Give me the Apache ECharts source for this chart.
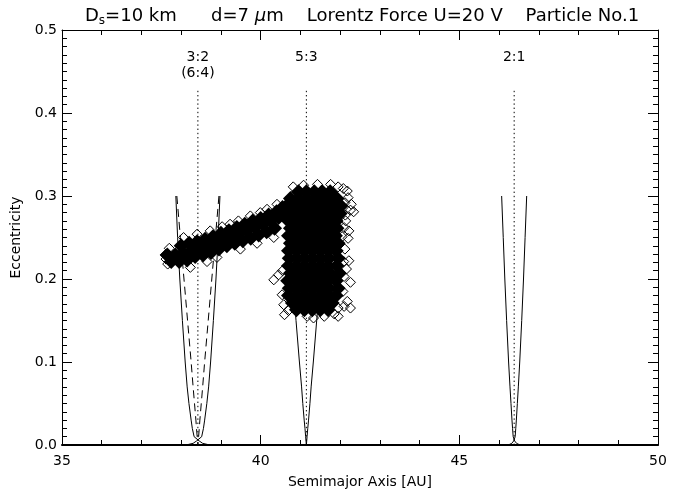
<!DOCTYPE html>
<html>
<head>
<meta charset="utf-8">
<script src="https://cdn.jsdelivr.net/npm/echarts@6/dist/echarts.min.js"></script>
<style>
html, body { margin: 0; padding: 0; background: #fff; }
#chart { width: 680px; height: 494px; }
</style>
</head>
<body>
<div id="chart"></div>
<script>
// axis ticks
const xTicks = [35, 40, 45, 50]
const yTicks = [0.0, 0.1, 0.2, 0.3, 0.4, 0.5]

// resonance locations [AU] and their names
const resNames = ['3:2', '5:3', '2:1']
const resA = [38.42, 41.15, 46.38]
const resTop = 0.428

// resonance widths: half width [AU] at each eccentricity level
const eLevels = [0.30, 0.25, 0.20, 0.15, 0.10, 0.07, 0.05, 0.03, 0.02, 0.01]
const w32 = [0.555, 0.51, 0.455, 0.39, 0.32, 0.27, 0.225, 0.17, 0.14, 0.095]
const w64 = [0.53, 0.44, 0.35, 0.26, 0.17, 0.12, 0.085, 0.05, 0.035, 0.018]
const w53 = [0.51, 0.43, 0.345, 0.26, 0.175, 0.12, 0.09, 0.055, 0.035, 0.018]
const w21 = [0.315, 0.275, 0.235, 0.19, 0.14, 0.105, 0.08, 0.055, 0.04, 0.025]
// little crossing "foot" near e=0
const footE = [0.005, 0.002, 0]
const foot32 = [0.03, 0.12, 0.3]
const foot21 = [0.01, 0.06, 0.15]

// particle orbit (a, e) - dense part
const cloudCore = [
  // band from 3:2 towards 5:3
  [37.75, .221], [37.95, .221], [38.15, .223], [38.35, .227], [38.55, .229], [38.75, .232],
  [38.95, .236], [39.15, .24], [39.35, .243], [39.55, .246], [39.75, .249], [39.95, .253],
  [40.15, .257], [40.35, .261],
  [37.65, .229], [37.85, .229], [38.05, .231], [38.25, .234], [38.45, .237], [38.65, .24],
  [38.85, .244], [39.05, .248], [39.25, .251], [39.45, .255], [39.65, .258], [39.85, .262],
  [40.05, .266], [40.25, .27], [40.45, .274],
  [38.0, .24], [38.2, .243], [38.4, .245], [38.6, .248], [38.8, .251], [39.0, .255],
  [39.2, .258], [39.4, .262], [39.6, .266], [39.8, .27], [40.0, .273], [40.2, .277],
  [40.4, .281], [40.55, .286],
  // blob at 5:3
  [40.95, .305], [41.15, .305], [41.35, .305], [41.55, .305], [41.75, .305],
  [40.75, .297], [40.95, .297], [41.15, .297], [41.35, .297], [41.55, .297], [41.75, .297], [41.92, .297],
  [40.65, .288], [40.85, .288], [41.05, .288], [41.25, .288], [41.45, .288], [41.65, .288], [41.85, .288], [42.02, .288],
  [40.6, .279], [40.8, .279], [41.0, .279], [41.2, .279], [41.4, .279], [41.6, .279], [41.8, .279], [42.0, .279],
  [40.7, .27], [40.9, .27], [41.1, .27], [41.3, .27], [41.5, .27], [41.7, .27], [41.9, .27],
  [40.75, .261], [40.95, .261], [41.15, .261], [41.35, .261], [41.55, .261], [41.75, .261], [41.92, .261],
  [40.7, .252], [40.9, .252], [41.1, .252], [41.3, .252], [41.5, .252], [41.7, .252], [41.88, .252],
  [40.75, .243], [40.95, .243], [41.15, .243], [41.35, .243], [41.55, .243], [41.75, .243], [41.95, .243],
  [40.7, .234], [40.9, .234], [41.1, .234], [41.3, .234], [41.5, .234], [41.7, .234], [41.9, .234],
  [40.72, .225], [40.92, .225], [41.12, .225], [41.32, .225], [41.52, .225], [41.72, .225], [41.95, .225],
  [40.7, .216], [40.9, .216], [41.1, .216], [41.3, .216], [41.5, .216], [41.7, .216], [41.92, .216],
  [40.75, .207], [40.95, .207], [41.15, .207], [41.35, .207], [41.55, .207], [41.75, .207], [41.98, .207],
  [40.68, .198], [40.88, .198], [41.08, .198], [41.28, .198], [41.48, .198], [41.68, .198], [41.9, .198],
  [40.72, .189], [40.92, .189], [41.12, .189], [41.32, .189], [41.52, .189], [41.72, .189], [41.95, .189],
  [40.7, .18], [40.9, .18], [41.1, .18], [41.3, .18], [41.5, .18], [41.7, .18], [41.9, .18],
  [40.8, .171], [41.0, .171], [41.2, .171], [41.4, .171], [41.6, .171], [41.8, .171],
  [40.9, .163], [41.1, .163], [41.3, .163], [41.5, .163], [41.7, .163]
]

// particle orbit (a, e) - scattered points around the edge
const cloudEdge = [
  [37.6, .229], [37.66, .218], [37.7, .237], [37.62, .224],
  [38.06, .25], [38.4, .254], [38.73, .258], [39.03, .263], [39.23, .266], [39.44, .27],
  [39.74, .276], [39.99, .28], [40.16, .284], [40.41, .29],
  [38.23, .214], [38.65, .221], [38.9, .226], [39.49, .236], [39.91, .243], [40.33, .25],
  [40.82, .311], [41.08, .313], [41.43, .314], [41.76, .314],
  [41.95, .311], [42.08, .309], [42.26, .283], [42.12, .292], [42.1, .262], [42.05, .251],
  [42.2, .249], [42.12, .236], [42.09, .221], [42.16, .212], [42.1, .203],
  [42.07, .185], [42.18, .173], [42.1, .167], [42.26, .165], [41.95, .165], [41.85, .158],
  [41.6, .155], [42.18, .306], [42.34, .281], [42.13, .277], [42.14, .27], [42.22, .258],
  [42.22, .222], [42.26, .196], [41.95, .155], [42.2, .298], [42.28, .29],
  [40.33, .199], [40.45, .205], [40.55, .21], [40.54, .181], [40.58, .169], [40.7, .162],
  [40.6, .157], [41.17, .155], [41.33, .153]
]

function branch (c, w, sign, foot) {
  const pts = eLevels.map((e, i) => [c + sign * w[i], e])
  if (foot) {
    footE.forEach((e, i) => pts.push([c - sign * foot[i], e]))
  } else {
    pts.push([c, 0])
  }
  return pts
}

function curve (data, dash) {
  return {
    type: 'line',
    data: data,
    showSymbol: false,
    silent: true,
    z: 2,
    lineStyle: { color: '#000', width: 1, type: dash || 'solid' }
  }
}

const txt = { color: '#000', fontFamily: 'DejaVu Sans', fontSize: 14 }

const chart = echarts.init(document.getElementById('chart'))

const series = [
  curve(branch(resA[0], w32, -1, foot32)),
  curve(branch(resA[0], w32, 1, foot32)),
  curve(branch(resA[0], w64, -1), [8, 5]),
  curve(branch(resA[0], w64, 1), [8, 5]),
  curve(branch(resA[1], w53, -1)),
  curve(branch(resA[1], w53, 1)),
  curve(branch(resA[2], w21, -1, foot21)),
  curve(branch(resA[2], w21, 1, foot21))
]
resA.forEach(a => {
  series.push(curve([[a, 0], [a, resTop]], [1.4, 2.8]))
})
series.push({
  type: 'scatter',
  symbol: 'diamond',
  symbolSize: 15,
  z: 3,
  itemStyle: { color: '#000', opacity: 1 },
  data: cloudCore
})
series.push({
  type: 'scatter',
  symbol: 'diamond',
  symbolSize: 10,
  z: 4,
  itemStyle: { color: 'rgba(255,255,255,0)', borderColor: '#000', borderWidth: 1, opacity: 1 },
  data: cloudEdge
})
series.push({
  type: 'scatter',
  symbolSize: 0,
  silent: true,
  itemStyle: { opacity: 1 },
  data: resNames.map((n, i) => ({ name: n, value: [resA[i], 0.467] })).concat([{ name: '(6:4)', value: [resA[0], 0.448] }]),
  label: { show: true, position: 'inside', formatter: '{b}', ...txt }
})

const xBase = {
  type: 'value',
  min: xTicks[0],
  max: xTicks[xTicks.length - 1],
  interval: 5,
  splitLine: { show: false },
  axisTick: { inside: true, length: 10, lineStyle: { color: '#000' } },
  minorTick: { show: true, splitNumber: 5, length: 5, lineStyle: { color: '#000' } }
}
const yBase = {
  type: 'value',
  min: yTicks[0],
  max: yTicks[yTicks.length - 1],
  interval: 0.1,
  splitLine: { show: false },
  axisTick: { inside: true, length: 10, lineStyle: { color: '#000' } },
  minorTick: { show: true, splitNumber: 10, length: 5, lineStyle: { color: '#000' } }
}

chart.setOption({
  animation: false,
  backgroundColor: '#fff',
  title: {
    text: 'D{s|s}=10 km      d=7 {mu|\u03bc}m    Lorentz Force U=20 V    Particle No.1',
    left: 80,
    top: 1,
    textStyle: {
      ...txt,
      fontSize: 18,
      fontWeight: 'normal',
      rich: {
        s: { ...txt, fontSize: 12, padding: [9, 0, 0, 0] },
        mu: { ...txt, fontSize: 18, fontStyle: 'italic' }
      }
    }
  },
  grid: { left: 62, right: 22, top: 30, bottom: 49 },
  xAxis: [
    {
      ...xBase,
      position: 'bottom',
      name: 'Semimajor Axis [AU]',
      nameLocation: 'middle',
      nameGap: 30,
      nameTextStyle: txt,
      axisLine: { lineStyle: { color: '#000', width: 2 } },
      axisLabel: { ...txt, margin: 9 }
    },
    {
      ...xBase,
      position: 'top',
      axisLine: { onZero: false, lineStyle: { color: '#000', width: 1 } },
      axisLabel: { show: false }
    }
  ],
  yAxis: [
    {
      ...yBase,
      position: 'left',
      name: 'Eccentricity',
      nameLocation: 'middle',
      nameGap: 38,
      nameTextStyle: txt,
      axisLine: { lineStyle: { color: '#000', width: 1 } },
      axisLabel: { ...txt, margin: 5, formatter: v => v.toFixed(1) }
    },
    {
      ...yBase,
      position: 'right',
      axisLine: { onZero: false, lineStyle: { color: '#000', width: 1 } },
      axisLabel: { show: false }
    }
  ],
  series: series
})
</script>
</body>
</html>
